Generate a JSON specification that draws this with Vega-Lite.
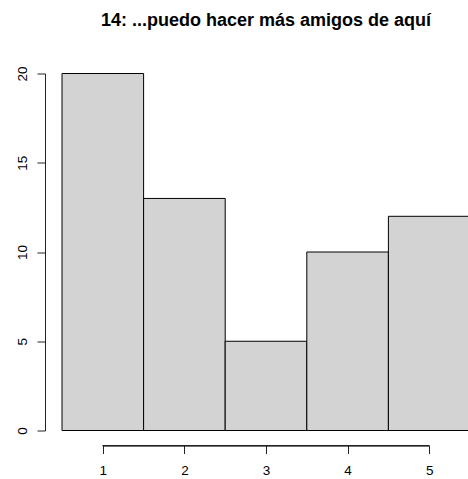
{
  "$schema": "https://vega.github.io/schema/vega-lite/v6.json",
  "autosize": "none",
  "width": 408,
  "height": 357,
  "padding": {"left": 62, "top": 73.5, "right": 0, "bottom": 48.5},
  "background": "white",
  "title": {
    "text": "14: ...puedo hacer más amigos de aquí",
    "font": "Liberation Sans",
    "fontSize": 18,
    "fontWeight": "bold",
    "color": "black",
    "anchor": "middle",
    "offset": 36
  },
  "config": {
    "view": {"stroke": null},
    "axis": {"grid": false, "labelFont": "Liberation Sans", "labelFontSize": 13.5, "labelColor": "black", "tickColor": "#222", "domainColor": "#222", "tickWidth": 1, "domainWidth": 1, "tickSize": 8, "title": null}
  },
  "data": {
    "values": [
      {"lo": 0.5, "hi": 1.5, "count": 20},
      {"lo": 1.5, "hi": 2.5, "count": 13},
      {"lo": 2.5, "hi": 3.5, "count": 5},
      {"lo": 3.5, "hi": 4.5, "count": 10},
      {"lo": 4.5, "hi": 5.5, "count": 12}
    ]
  },
  "layer": [
    {
      "mark": {"type": "bar", "fill": "#d3d3d3", "stroke": "black", "strokeWidth": 1, "orient": "vertical"},
      "encoding": {
        "x": {"field": "lo", "type": "quantitative",
          "scale": {"domain": [0.5, 5.5], "nice": false, "zero": false, "padding": 0},
          "axis": {"values": [1, 2, 3, 4, 5], "format": "d", "domain": false, "offset": 15, "labelPadding": 10, "labelBaseline": "top", "labelFlush": false}},
        "x2": {"field": "hi"},
        "y": {"field": "count", "type": "quantitative",
          "scale": {"domain": [0, 20], "nice": false, "zero": true, "padding": 0},
          "axis": {"values": [0, 5, 10, 15, 20], "offset": 17, "labelAngle": 270, "labelAlign": "center", "labelBaseline": "alphabetic", "labelPadding": 11, "labelFlush": false}},
        "y2": {"datum": 0}
      }
    },
    {
      "mark": {"type": "rule", "color": "#222", "strokeWidth": 1, "clip": false},
      "encoding": {
        "x": {"datum": 1, "type": "quantitative"},
        "x2": {"datum": 5},
        "y": {"datum": -0.85, "type": "quantitative"}
      }
    }
  ]
}
